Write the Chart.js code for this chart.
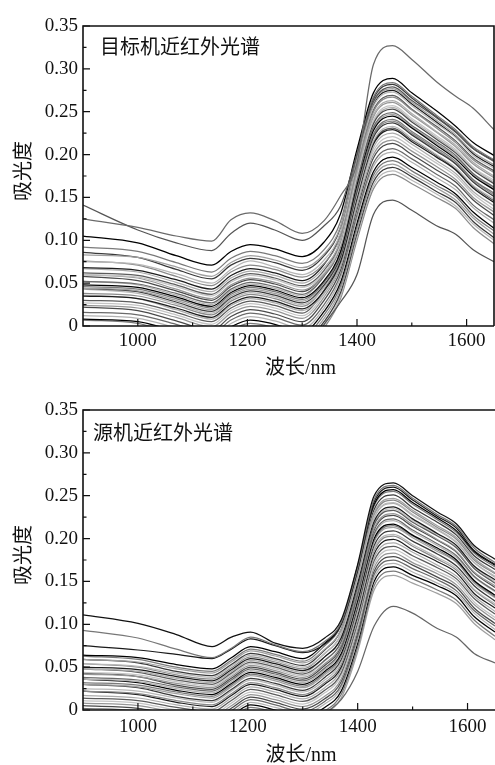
<!DOCTYPE html>
<html>
<head>
<meta charset="utf-8">
<script src="https://cdn.jsdelivr.net/npm/chart.js@4/dist/chart.umd.min.js"></script>
<style>
  html, body { margin: 0; padding: 0; background: #fff; }
  #wrap { position: relative; width: 495px; height: 765px; overflow: hidden; }
  canvas { position: absolute; left: 0; }
</style>
</head>
<body>
<div id="wrap">
  <canvas id="targetChart" width="495" height="385" style="top:0;width:495px;height:385px"></canvas>
  <canvas id="sourceChart" width="495" height="380" style="top:385px;width:495px;height:380px"></canvas>
</div>
<script>
// Sampling wavelengths (nm) shared by every spectrum
const WAVELENGTHS = [900, 1000, 1070, 1135, 1170, 1205, 1250, 1300, 1340, 1370, 1400, 1430, 1465, 1500, 1545, 1580, 1612, 1650];

// Axis ticks
const X_TICKS = [1000, 1200, 1400, 1600];
const X_TICK_LABELS = ['1000', '1200', '1400', '1600'];
const X_MINOR_TICKS = [1100, 1300, 1500];
const Y_TICKS = [0, 0.05, 0.10, 0.15, 0.20, 0.25, 0.30, 0.35];
const Y_TICK_LABELS = ['0', '0.05', '0.10', '0.15', '0.20', '0.25', '0.30', '0.35'];
const Y_MINOR_TICKS = [0.025, 0.075, 0.125, 0.175, 0.225, 0.275, 0.325];

// Text
const TARGET_TITLE = '目标机近红外光谱';
const SOURCE_TITLE = '源机近红外光谱';
const X_TITLE = '波长/nm';
const Y_TITLE = '吸光度';

// ---- 目标机 absorbance spectra ----
const T01 = [0.105, 0.097, 0.082, 0.071, 0.087, 0.095, 0.090, 0.081, 0.098, 0.131, 0.206, 0.272, 0.289, 0.272, 0.251, 0.233, 0.214, 0.199];
const T02 = [0.092, 0.087, 0.074, 0.063, 0.079, 0.087, 0.082, 0.073, 0.089, 0.122, 0.201, 0.267, 0.284, 0.268, 0.246, 0.229, 0.209, 0.194];
const T03 = [0.083, 0.080, 0.069, 0.058, 0.074, 0.082, 0.077, 0.068, 0.084, 0.116, 0.194, 0.260, 0.277, 0.261, 0.240, 0.223, 0.203, 0.188];
const T04 = [0.086, 0.080, 0.066, 0.055, 0.071, 0.079, 0.074, 0.065, 0.082, 0.115, 0.199, 0.265, 0.282, 0.266, 0.244, 0.227, 0.207, 0.193];
const T05 = [0.075, 0.072, 0.061, 0.050, 0.066, 0.076, 0.069, 0.060, 0.077, 0.109, 0.190, 0.256, 0.273, 0.257, 0.236, 0.220, 0.199, 0.184];
const T06 = [0.076, 0.071, 0.058, 0.047, 0.063, 0.071, 0.066, 0.057, 0.073, 0.105, 0.184, 0.250, 0.267, 0.252, 0.231, 0.214, 0.194, 0.179];
const T07 = [0.068, 0.065, 0.054, 0.043, 0.059, 0.067, 0.062, 0.053, 0.072, 0.108, 0.192, 0.258, 0.275, 0.259, 0.238, 0.221, 0.201, 0.186];
const T08 = [0.067, 0.063, 0.051, 0.040, 0.056, 0.064, 0.059, 0.050, 0.068, 0.100, 0.180, 0.246, 0.263, 0.248, 0.227, 0.211, 0.191, 0.175];
const T09 = [0.062, 0.059, 0.048, 0.037, 0.053, 0.061, 0.056, 0.047, 0.065, 0.100, 0.186, 0.252, 0.269, 0.253, 0.233, 0.216, 0.196, 0.181];
const T10 = [0.060, 0.057, 0.046, 0.035, 0.051, 0.059, 0.054, 0.045, 0.062, 0.095, 0.174, 0.240, 0.257, 0.242, 0.222, 0.206, 0.185, 0.170];
const T11 = [0.060, 0.056, 0.043, 0.032, 0.048, 0.056, 0.051, 0.042, 0.060, 0.094, 0.178, 0.244, 0.261, 0.246, 0.226, 0.209, 0.189, 0.173];
const T12 = [0.058, 0.053, 0.041, 0.030, 0.046, 0.054, 0.049, 0.040, 0.061, 0.095, 0.173, 0.236, 0.253, 0.238, 0.218, 0.202, 0.182, 0.166];
const T13 = [0.052, 0.049, 0.038, 0.027, 0.043, 0.051, 0.046, 0.037, 0.058, 0.092, 0.169, 0.232, 0.249, 0.234, 0.215, 0.199, 0.178, 0.162];
const T14 = [0.052, 0.048, 0.036, 0.025, 0.041, 0.049, 0.044, 0.035, 0.059, 0.096, 0.175, 0.238, 0.255, 0.240, 0.220, 0.204, 0.184, 0.168];
const T15 = [0.048, 0.045, 0.034, 0.023, 0.039, 0.047, 0.042, 0.033, 0.053, 0.087, 0.165, 0.228, 0.245, 0.231, 0.211, 0.195, 0.175, 0.159];
const T16 = [0.046, 0.043, 0.032, 0.021, 0.037, 0.045, 0.040, 0.031, 0.051, 0.084, 0.161, 0.224, 0.241, 0.227, 0.208, 0.192, 0.171, 0.155];
const T17 = [0.044, 0.041, 0.030, 0.019, 0.035, 0.043, 0.038, 0.029, 0.051, 0.086, 0.167, 0.230, 0.247, 0.232, 0.213, 0.197, 0.177, 0.160];
const T18 = [0.044, 0.040, 0.028, 0.017, 0.033, 0.041, 0.036, 0.027, 0.048, 0.081, 0.157, 0.220, 0.237, 0.223, 0.204, 0.189, 0.168, 0.151];
const T19 = [0.043, 0.038, 0.026, 0.015, 0.031, 0.039, 0.034, 0.025, 0.045, 0.080, 0.153, 0.216, 0.233, 0.219, 0.200, 0.185, 0.164, 0.148];
const T20 = [0.038, 0.035, 0.024, 0.013, 0.029, 0.037, 0.032, 0.023, 0.046, 0.082, 0.159, 0.222, 0.239, 0.225, 0.206, 0.190, 0.170, 0.153];
const T21 = [0.035, 0.032, 0.021, 0.010, 0.026, 0.034, 0.029, 0.020, 0.041, 0.075, 0.149, 0.212, 0.229, 0.215, 0.197, 0.182, 0.161, 0.144];
const T22 = [0.036, 0.032, 0.019, 0.008, 0.024, 0.032, 0.027, 0.018, 0.038, 0.072, 0.145, 0.208, 0.225, 0.212, 0.193, 0.178, 0.157, 0.140];
const T23 = [0.030, 0.027, 0.016, 0.005, 0.021, 0.029, 0.024, 0.015, 0.042, 0.079, 0.154, 0.214, 0.231, 0.217, 0.199, 0.183, 0.163, 0.146];
const T24 = [0.027, 0.024, 0.013, 0.002, 0.018, 0.026, 0.021, 0.012, 0.037, 0.072, 0.144, 0.204, 0.221, 0.208, 0.190, 0.175, 0.154, 0.136];
const T25 = [0.024, 0.021, 0.010, -0.001, 0.015, 0.023, 0.018, 0.009, 0.034, 0.069, 0.140, 0.200, 0.217, 0.204, 0.186, 0.171, 0.150, 0.133];
const T26 = [0.022, 0.018, 0.006, -0.005, 0.011, 0.019, 0.014, 0.005, 0.030, 0.065, 0.136, 0.196, 0.213, 0.200, 0.182, 0.168, 0.147, 0.129];
const T27 = [0.016, 0.013, 0.002, -0.009, 0.007, 0.015, 0.010, 0.001, 0.025, 0.060, 0.130, 0.190, 0.207, 0.195, 0.177, 0.163, 0.141, 0.124];
const T28 = [0.012, 0.009, -0.002, -0.013, 0.003, 0.011, 0.006, -0.003, 0.021, 0.056, 0.126, 0.186, 0.203, 0.191, 0.173, 0.159, 0.138, 0.120];
const T29 = [0.008, 0.005, -0.006, -0.017, -0.001, 0.007, 0.002, -0.007, 0.017, 0.051, 0.120, 0.180, 0.197, 0.185, 0.168, 0.154, 0.133, 0.114];
const T30 = [0.007, 0.003, -0.010, -0.021, -0.005, 0.003, -0.002, -0.011, 0.013, 0.047, 0.116, 0.176, 0.193, 0.181, 0.164, 0.151, 0.129, 0.111];
const T31 = [0.000, -0.003, -0.014, -0.025, -0.009, -0.001, -0.006, -0.015, 0.009, 0.043, 0.112, 0.172, 0.189, 0.177, 0.161, 0.147, 0.126, 0.107];
const T32 = [-0.004, -0.007, -0.018, -0.029, -0.013, -0.005, -0.010, -0.019, 0.005, 0.039, 0.108, 0.168, 0.185, 0.174, 0.157, 0.144, 0.122, 0.103];
const T33 = [-0.008, -0.011, -0.022, -0.033, -0.017, -0.009, -0.014, -0.023, 0.001, 0.035, 0.104, 0.164, 0.181, 0.170, 0.154, 0.140, 0.119, 0.100];
const T34 = [-0.010, -0.013, -0.024, -0.035, -0.019, -0.011, -0.016, -0.025, -0.002, 0.032, 0.100, 0.160, 0.177, 0.166, 0.150, 0.137, 0.115, 0.096];
// samples lying apart from the main bundle
const T_HIGH = [0.125, 0.115, 0.105, 0.099, 0.124, 0.132, 0.123, 0.108, 0.123, 0.152, 0.190, 0.305, 0.327, 0.311, 0.285, 0.268, 0.254, 0.229];
const T_STEEP = [0.141, 0.112, 0.097, 0.088, 0.108, 0.120, 0.112, 0.100, 0.117, 0.140, 0.200, 0.262, 0.279, 0.263, 0.243, 0.226, 0.207, 0.192];
const T_LOW = [-0.040, -0.042, -0.050, -0.060, -0.050, -0.035, -0.040, -0.035, 0.002, 0.028, 0.060, 0.130, 0.147, 0.135, 0.117, 0.107, 0.089, 0.075];

// ---- 源机 absorbance spectra ----
const S01 = [0.111, 0.101, 0.088, 0.074, 0.085, 0.091, 0.078, 0.072, 0.084, 0.105, 0.170, 0.250, 0.265, 0.250, 0.231, 0.217, 0.192, 0.176];
const S02 = [0.093, 0.084, 0.071, 0.061, 0.072, 0.085, 0.076, 0.068, 0.080, 0.102, 0.166, 0.246, 0.262, 0.247, 0.228, 0.214, 0.189, 0.172];
const S03 = [0.075, 0.070, 0.065, 0.060, 0.071, 0.083, 0.075, 0.067, 0.077, 0.100, 0.163, 0.243, 0.260, 0.245, 0.226, 0.212, 0.186, 0.170];
const S04 = [0.064, 0.061, 0.053, 0.048, 0.061, 0.074, 0.068, 0.060, 0.078, 0.101, 0.168, 0.240, 0.257, 0.242, 0.224, 0.209, 0.185, 0.169];
const S05 = [0.063, 0.059, 0.050, 0.045, 0.058, 0.071, 0.065, 0.057, 0.075, 0.099, 0.166, 0.238, 0.255, 0.240, 0.222, 0.207, 0.183, 0.167];
const S06 = [0.059, 0.056, 0.048, 0.043, 0.056, 0.069, 0.063, 0.055, 0.071, 0.094, 0.158, 0.230, 0.247, 0.233, 0.215, 0.201, 0.177, 0.160];
const S07 = [0.059, 0.055, 0.045, 0.040, 0.053, 0.066, 0.060, 0.052, 0.070, 0.094, 0.162, 0.234, 0.251, 0.236, 0.219, 0.204, 0.180, 0.164];
const S08 = [0.054, 0.051, 0.043, 0.038, 0.051, 0.064, 0.058, 0.050, 0.066, 0.089, 0.153, 0.225, 0.242, 0.228, 0.211, 0.196, 0.172, 0.156];
const S09 = [0.054, 0.050, 0.041, 0.036, 0.049, 0.062, 0.056, 0.048, 0.066, 0.089, 0.156, 0.228, 0.245, 0.231, 0.213, 0.199, 0.175, 0.159];
const S10 = [0.050, 0.047, 0.039, 0.034, 0.047, 0.060, 0.054, 0.046, 0.062, 0.084, 0.148, 0.220, 0.237, 0.223, 0.206, 0.192, 0.168, 0.152];
const S11 = [0.048, 0.045, 0.037, 0.032, 0.045, 0.058, 0.052, 0.044, 0.062, 0.085, 0.152, 0.224, 0.241, 0.227, 0.210, 0.195, 0.172, 0.155];
const S12 = [0.048, 0.044, 0.035, 0.030, 0.043, 0.056, 0.050, 0.042, 0.058, 0.080, 0.144, 0.216, 0.233, 0.219, 0.203, 0.189, 0.165, 0.148];
const S13 = [0.044, 0.041, 0.033, 0.028, 0.041, 0.054, 0.048, 0.040, 0.057, 0.080, 0.146, 0.218, 0.235, 0.221, 0.205, 0.190, 0.167, 0.150];
const S14 = [0.042, 0.039, 0.031, 0.026, 0.039, 0.052, 0.046, 0.038, 0.054, 0.076, 0.140, 0.212, 0.229, 0.216, 0.199, 0.185, 0.161, 0.145];
const S15 = [0.043, 0.039, 0.029, 0.024, 0.037, 0.050, 0.044, 0.036, 0.052, 0.074, 0.138, 0.210, 0.227, 0.214, 0.198, 0.184, 0.160, 0.143];
const S16 = [0.038, 0.035, 0.027, 0.022, 0.035, 0.048, 0.042, 0.034, 0.049, 0.071, 0.134, 0.206, 0.223, 0.210, 0.194, 0.180, 0.156, 0.139];
const S17 = [0.036, 0.033, 0.025, 0.020, 0.033, 0.046, 0.040, 0.032, 0.047, 0.069, 0.132, 0.204, 0.221, 0.208, 0.192, 0.178, 0.155, 0.138];
const S18 = [0.036, 0.032, 0.023, 0.018, 0.031, 0.044, 0.038, 0.030, 0.045, 0.066, 0.128, 0.200, 0.217, 0.204, 0.189, 0.175, 0.151, 0.134];
const S19 = [0.032, 0.029, 0.021, 0.016, 0.029, 0.042, 0.036, 0.028, 0.043, 0.064, 0.126, 0.198, 0.215, 0.203, 0.187, 0.173, 0.150, 0.132];
const S20 = [0.030, 0.027, 0.019, 0.014, 0.027, 0.040, 0.034, 0.026, 0.041, 0.062, 0.124, 0.196, 0.213, 0.201, 0.185, 0.172, 0.148, 0.131];
const S21 = [0.030, 0.026, 0.016, 0.011, 0.024, 0.037, 0.031, 0.023, 0.038, 0.059, 0.120, 0.192, 0.209, 0.197, 0.182, 0.168, 0.145, 0.127];
const S22 = [0.025, 0.022, 0.014, 0.009, 0.022, 0.035, 0.029, 0.021, 0.035, 0.056, 0.116, 0.188, 0.205, 0.193, 0.178, 0.165, 0.141, 0.124];
const S23 = [0.022, 0.019, 0.011, 0.006, 0.019, 0.032, 0.026, 0.018, 0.032, 0.053, 0.114, 0.186, 0.203, 0.191, 0.176, 0.163, 0.140, 0.122];
const S24 = [0.022, 0.018, 0.009, 0.004, 0.017, 0.030, 0.024, 0.016, 0.030, 0.050, 0.110, 0.182, 0.199, 0.187, 0.173, 0.160, 0.136, 0.119];
const S25 = [0.017, 0.014, 0.006, 0.001, 0.014, 0.027, 0.021, 0.013, 0.026, 0.047, 0.106, 0.178, 0.195, 0.184, 0.169, 0.156, 0.133, 0.115];
const S26 = [0.014, 0.011, 0.003, -0.002, 0.011, 0.024, 0.018, 0.010, 0.023, 0.043, 0.102, 0.174, 0.191, 0.180, 0.166, 0.153, 0.130, 0.112];
const S27 = [0.011, 0.008, 0.000, -0.005, 0.008, 0.021, 0.015, 0.007, 0.020, 0.040, 0.098, 0.170, 0.187, 0.176, 0.162, 0.150, 0.126, 0.108];
const S28 = [0.008, 0.005, -0.003, -0.008, 0.005, 0.018, 0.012, 0.004, 0.016, 0.036, 0.094, 0.166, 0.183, 0.172, 0.159, 0.146, 0.123, 0.105];
const S29 = [0.005, 0.002, -0.006, -0.011, 0.002, 0.015, 0.009, 0.001, 0.013, 0.033, 0.090, 0.162, 0.179, 0.169, 0.155, 0.143, 0.119, 0.101];
const S30 = [0.002, -0.001, -0.009, -0.014, -0.001, 0.012, 0.006, -0.002, 0.010, 0.029, 0.086, 0.158, 0.175, 0.165, 0.152, 0.139, 0.116, 0.098];
const S31 = [-0.001, -0.004, -0.012, -0.017, -0.004, 0.009, 0.003, -0.005, 0.007, 0.026, 0.082, 0.154, 0.171, 0.161, 0.148, 0.136, 0.113, 0.094];
const S32 = [-0.004, -0.007, -0.015, -0.020, -0.007, 0.006, 0.000, -0.008, 0.003, 0.022, 0.078, 0.150, 0.167, 0.157, 0.145, 0.133, 0.109, 0.091];
const S33 = [-0.007, -0.010, -0.018, -0.023, -0.010, 0.003, -0.003, -0.011, -0.001, 0.018, 0.073, 0.145, 0.162, 0.153, 0.140, 0.128, 0.105, 0.086];
const S34 = [-0.010, -0.013, -0.021, -0.026, -0.013, 0.000, -0.006, -0.014, -0.004, 0.014, 0.068, 0.140, 0.157, 0.148, 0.136, 0.124, 0.101, 0.082];
const S_LOW = [-0.050, -0.050, -0.060, -0.070, -0.060, -0.050, -0.050, -0.040, -0.005, 0.012, 0.045, 0.098, 0.121, 0.113, 0.095, 0.085, 0.066, 0.055];

const TARGET_SPECTRA = [T01, T02, T03, T04, T05, T06, T07, T08, T09, T10, T11, T12, T13, T14, T15, T16, T17,
  T18, T19, T20, T21, T22, T23, T24, T25, T26, T27, T28, T29, T30, T31, T32, T33, T34];
const TARGET_OUTLIERS = [T_HIGH, T_STEEP, T_LOW];
const SOURCE_SPECTRA = [S04, S05, S06, S07, S08, S09, S10, S11, S12, S13, S14, S15, S16, S17, S18, S19, S20,
  S21, S22, S23, S24, S25, S26, S27, S28, S29, S30, S31, S32, S33, S34];
const SOURCE_OUTLIERS = [S01, S02, S03, S_LOW];

// grey levels cycled over the spectra
const GREYS = ['#000000', '#7a7a7a', '#a0a0a0', '#3a3a3a', '#b8b8b8', '#8a8a8a', '#1c1c1c', '#acacac',
  '#5c5c5c', '#c4c4c4', '#969696', '#4a4a4a', '#6a6a6a', '#b2b2b2'];
const TARGET_OUTLIER_GREYS = ['#6a6a6a', '#555555', '#555555'];
const SOURCE_OUTLIER_GREYS = ['#111111', '#777777', '#1a1a1a', '#666666'];

const SERIF = '"Liberation Serif", "Times New Roman", serif';
const CJK = '"Noto Sans CJK SC", "Noto Sans CJK JP", sans-serif';

function spectrumDataset(values, colour) {
  return {
    data: WAVELENGTHS.map((w, i) => ({ x: w, y: values[i] })),
    borderColor: colour,
    borderWidth: 1.25,
    pointRadius: 0,
    fill: false,
    cubicInterpolationMode: 'monotone',
    clip: 0
  };
}

// axis frame, inward tick marks and the text labels of one panel
const framePlugin = {
  id: 'spectraFrame',
  afterDraw(chart, args, opts) {
    const { ctx, chartArea: a, scales: { x, y } } = chart;
    ctx.save();
    ctx.strokeStyle = '#111';
    ctx.lineWidth = 1.2;
    ctx.beginPath();
    X_TICKS.forEach(v => { const p = x.getPixelForValue(v); ctx.moveTo(p, a.bottom); ctx.lineTo(p, a.bottom - 7); });
    X_MINOR_TICKS.forEach(v => { const p = x.getPixelForValue(v); ctx.moveTo(p, a.bottom); ctx.lineTo(p, a.bottom - 3.5); });
    Y_TICKS.forEach(v => { const p = y.getPixelForValue(v); ctx.moveTo(a.left, p); ctx.lineTo(a.left + 7, p); });
    Y_MINOR_TICKS.forEach(v => { const p = y.getPixelForValue(v); ctx.moveTo(a.left, p); ctx.lineTo(a.left + 3.5, p); });
    ctx.stroke();

    ctx.lineWidth = 1.6;
    ctx.beginPath();
    if (opts.rightBorder) {
      ctx.moveTo(a.right, a.bottom);
      ctx.lineTo(a.right, a.top);
    } else {
      ctx.moveTo(a.right + 2, a.top);
    }
    ctx.lineTo(a.left, a.top);
    ctx.lineTo(a.left, a.bottom);
    ctx.lineTo(a.right + (opts.rightBorder ? 0 : 2), a.bottom);
    ctx.stroke();

    ctx.fillStyle = '#111';
    // panel caption
    ctx.font = '20px ' + CJK;
    ctx.textAlign = 'left';
    ctx.textBaseline = 'middle';
    ctx.fillText(opts.caption, a.left + opts.captionDx, a.top + opts.captionDy);
    // x axis title
    ctx.font = '20px ' + SERIF + ', ' + CJK;
    ctx.textAlign = 'center';
    ctx.fillText(X_TITLE, (a.left + a.right) / 2 + 12, a.bottom + opts.xTitleDy);
    // y axis title
    ctx.save();
    ctx.translate(22, (a.top + a.bottom) / 2 - 5);
    ctx.rotate(-Math.PI / 2);
    ctx.font = '20px ' + CJK;
    ctx.fillText(Y_TITLE, 0, 0);
    ctx.restore();
    ctx.restore();
  }
};

function makePanel(canvasId, spectra, outliers, outlierGreys, cfg) {
  const datasets = [];
  outliers.forEach((s, i) => datasets.push(spectrumDataset(s, outlierGreys[i])));
  spectra.forEach((s, i) => datasets.push(spectrumDataset(s, GREYS[i % GREYS.length])));
  return new Chart(document.getElementById(canvasId), {
    type: 'line',
    data: { datasets },
    plugins: [framePlugin],
    options: {
      responsive: false,
      animation: false,
      devicePixelRatio: 1,
      events: [],
      layout: { padding: { top: cfg.padTop, right: cfg.padRight, bottom: 0, left: 0 } },
      plugins: {
        legend: { display: false },
        tooltip: { enabled: false },
        spectraFrame: cfg.frame
      },
      scales: {
        x: {
          type: 'linear',
          min: 900,
          max: 1650,
          grid: { display: false, drawTicks: false },
          border: { display: false },
          afterBuildTicks: s => { s.ticks = X_TICKS.map(v => ({ value: v })); },
          afterFit: s => { s.height = cfg.xHeight; },
          ticks: {
            autoSkip: false,
            maxRotation: 0,
            padding: cfg.xTickPad,
            color: '#111',
            font: { family: SERIF, size: 19 },
            callback: (v, i) => X_TICK_LABELS[i]
          }
        },
        y: {
          type: 'linear',
          min: 0,
          max: 0.35,
          grid: { display: false, drawTicks: false },
          border: { display: false },
          afterBuildTicks: s => { s.ticks = Y_TICKS.map(v => ({ value: v })); },
          afterFit: s => { s.width = 83; },
          ticks: {
            autoSkip: false,
            padding: 5,
            color: '#111',
            font: { family: SERIF, size: 19 },
            callback: (v, i) => Y_TICK_LABELS[i]
          }
        }
      }
    }
  });
}

makePanel('targetChart', TARGET_SPECTRA, TARGET_OUTLIERS, TARGET_OUTLIER_GREYS, {
  padTop: 26, padRight: 1, xHeight: 59, xTickPad: 4,
  frame: { caption: TARGET_TITLE, captionDx: 17, captionDy: 20, xTitleDy: 43, rightBorder: true }
});
makePanel('sourceChart', SOURCE_SPECTRA, SOURCE_OUTLIERS, SOURCE_OUTLIER_GREYS, {
  padTop: 25, padRight: 0, xHeight: 55, xTickPad: 6,
  frame: { caption: SOURCE_TITLE, captionDx: 10, captionDy: 22, xTitleDy: 46, rightBorder: false }
});
</script>
</body>
</html>
